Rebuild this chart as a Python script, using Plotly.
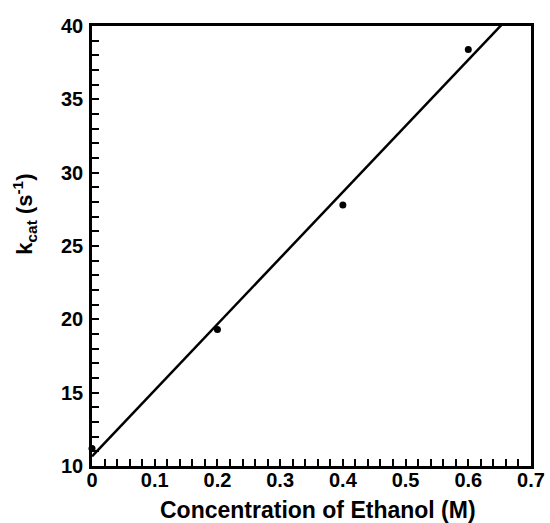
import numpy as np
import plotly.graph_objects as go

# Measured turnover numbers vs ethanol concentration
ethanol_m = [0.0, 0.2, 0.4, 0.6]
kcat = [11.2, 19.3, 27.8, 38.4]

# Least-squares straight line through the measurements
slope, intercept = np.polyfit(ethanol_m, kcat, 1)
fit_x = np.array([0.0, 0.7])
fit_y = slope * fit_x + intercept

font_family = "Liberation Sans, Arial, sans-serif"

fig = go.Figure()
fig.add_trace(go.Scatter(
    x=fit_x, y=fit_y, mode="lines",
    line=dict(color="black", width=2.5),
    showlegend=False, hoverinfo="skip",
))
fig.add_trace(go.Scatter(
    x=ethanol_m, y=kcat, mode="markers",
    marker=dict(color="black", size=7),
    showlegend=False, cliponaxis=False,
))

axis_common = dict(
    showgrid=False, zeroline=False, automargin=False,
    showline=True, linecolor="black", linewidth=2.5, mirror=True,
    ticks="inside", ticklen=7, tickwidth=1.5, tickcolor="black",
    tickfont=dict(family=font_family, size=20, color="black", weight="bold"),
)

fig.update_xaxes(
    range=[0, 0.7], dtick=0.1, tickformat=".1~f", tickangle=0,
    ticklabelstandoff=-6,
    minor=dict(dtick=0.02, ticks="inside", ticklen=7, tickwidth=1.5, tickcolor="black"),
    **axis_common,
)
fig.update_yaxes(
    range=[10, 40], dtick=5, ticklabelstandoff=2,
    minor=dict(dtick=1, ticks="inside", ticklen=7, tickwidth=1.5, tickcolor="black"),
    **axis_common,
)

# Axis titles
fig.add_annotation(
    text="<b>Concentration of Ethanol (M)</b>",
    xref="paper", yref="paper", x=0.515, y=-0.1,
    xanchor="center", yanchor="middle", showarrow=False,
    font=dict(family=font_family, size=23, color="black"),
)
fig.add_annotation(
    text="<b>k<sub>cat</sub> (s<sup>-1</sup>)</b>",
    xref="paper", yref="paper", x=-0.153, y=0.573,
    xanchor="center", yanchor="middle", textangle=-90, showarrow=False,
    font=dict(family=font_family, size=22, color="black"),
)

fig.update_layout(
    width=550, height=523,
    margin=dict(l=92, r=19, t=26, b=57),
    paper_bgcolor="white", plot_bgcolor="white",
)

fig.write_html("out.html")
